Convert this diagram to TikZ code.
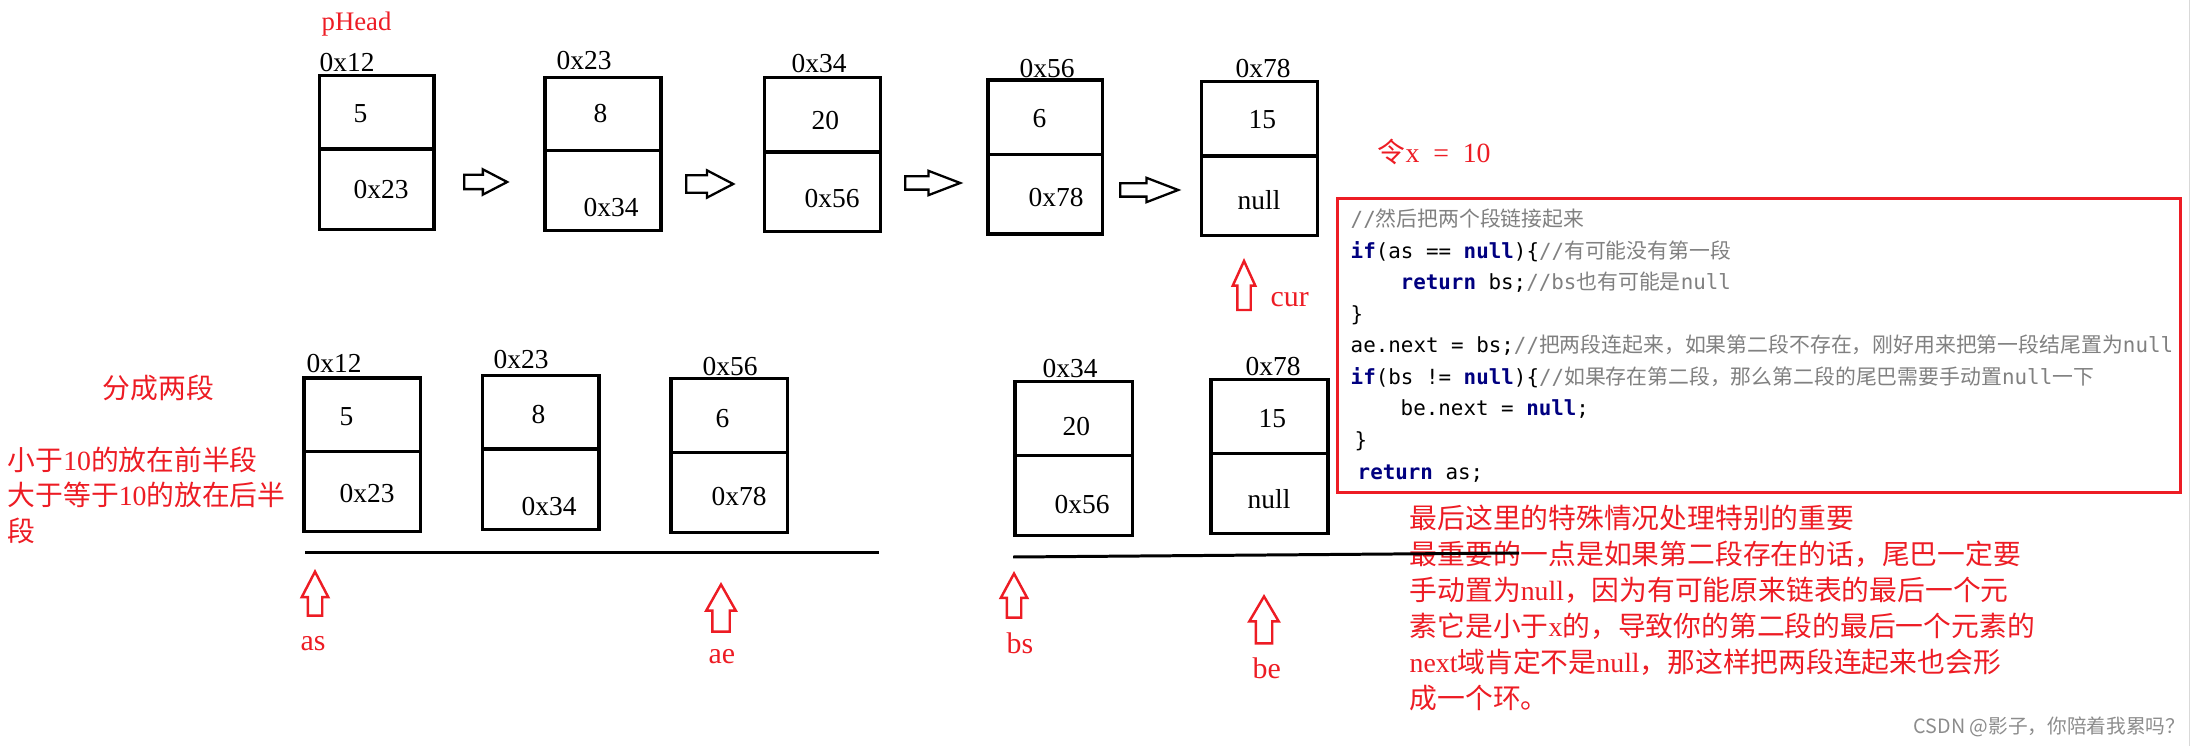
\documentclass[tikz,border=0pt]{standalone}
\usepackage{fontspec}
\usepackage{xcolor}
\usepackage{tikz}
\usetikzlibrary{shapes.arrows}
\setmainfont{Liberation Serif}
\setmonofont{DejaVu Sans Mono}
\newfontfamily\zhfont{Noto Sans CJK SC}
\definecolor{pred}{HTML}{ED1C24}
\definecolor{kwblue}{HTML}{000080}
\definecolor{cmtgray}{HTML}{808080}
\definecolor{wmgray}{HTML}{8C8C8C}
\definecolor{edgegray}{HTML}{D9D9D9}
\newcommand\zh[1]{{\zhfont #1}}
\newcommand\kw[1]{{\color{kwblue}\bfseries #1}}
\newcommand\cmt[1]{{\color{cmtgray}#1}}

\begin{document}
\begin{tikzpicture}[x=0.01cm, y=-0.01cm,
    cell/.style={line width=1pt},
    val/.style={anchor=base west, inner sep=0pt, font=\fontsize{7.8}{9}\selectfont},
    note/.style={anchor=base west, inner sep=0pt, text=pred, font=\fontsize{7.9}{10}\selectfont},
    ptr/.style={anchor=base west, inner sep=0pt, text=pred, font=\fontsize{8.5}{10}\selectfont},
    code/.style={anchor=base west, inner sep=0pt, font=\fontsize{5.93}{7}\selectfont\ttfamily},
    nextarrow/.style={single arrow, draw, fill=white, line width=0.65pt, anchor=tail},
    uparrow/.style={single arrow, draw=pred, line width=0.7pt, rotate=90, anchor=tip}]
\useasboundingbox (0,0) rectangle (2201,746);
\draw[edgegray, line width=0.3pt] (2189,0) -- (2189,746);

% list cells: left/right/top/middle/bottom
\foreach \l/\r/\t/\m/\b in {319.3/434/75.7/149/229.3, 545/661/77.3/150.7/230.7,
    764.7/880.7/77.3/152/231.3, 988/1102.7/80/154.7/234, 1201.3/1317.7/81.3/155.8/235.3,
    304/420.7/378/451.3/531.3, 482.3/599/375.7/449/529.7, 671/787.3/378.3/452.3/532.3,
    1015/1132.3/381.3/455.7/535.7, 1211/1328/379.7/453.7/533.3}
  \draw[cell] (\l,\t) rectangle (\r,\b) (\l,\m) -- (\r,\m);

\foreach \nm/\txt/\x/\y in {a-addr/0x12/319/72, a-val/5/353/123, a-next/0x23/353/199,
    b-addr/0x23/556/70, b-val/8/593/123, b-next/0x34/583/217,
    c-addr/0x34/791/73, c-val/20/811/130, c-next/0x56/804/208,
    d-addr/0x56/1019/78, d-val/6/1032/128, d-next/0x78/1028/207,
    e-addr/0x78/1235/78, e-val/15/1248/129, e-next/null/1237/210,
    f-addr/0x12/306/373, f-val/5/339/425, f-next/0x23/339/502,
    g-addr/0x23/493/368, g-val/8/531/423, g-next/0x34/521/515,
    h-addr/0x56/702/376, h-val/6/715/427, h-next/0x78/711/505,
    i-addr/0x34/1042/377, i-val/20/1062/435, i-next/0x56/1054/513,
    j-addr/0x78/1245/376, j-val/15/1258/427, j-next/null/1247/508}
  \node[val] (\nm) at (\x,\y) {\txt};

% next arrows
\node[nextarrow, minimum height=0.43cm, inner sep=0.06cm, single arrow head extend=0.055cm, single arrow tip angle=55] (ab) at (463,182) {};
\node[nextarrow, minimum height=0.47cm, inner sep=0.075cm, single arrow head extend=0.05cm, single arrow tip angle=55] (bc) at (685,184) {};
\node[nextarrow, minimum height=0.55cm, inner sep=0.055cm, single arrow head extend=0.055cm, single arrow tip angle=42] (cd) at (904,183) {};
\node[nextarrow, minimum height=0.58cm, inner sep=0.055cm, single arrow head extend=0.055cm, single arrow tip angle=42] (de) at (1119,190) {};

% pointers
\node[ptr, font=\fontsize{7.6}{9}\selectfont] (phead) at (321,31) {pHead};
\node[uparrow, minimum height=0.49cm, inner sep=0.055cm, single arrow head extend=0.045cm, single arrow tip angle=49] (cur-arr) at (1244,258) {};
\node[ptr] (cur) at (1270,307) {cur};
\node[uparrow, minimum height=0.44cm, inner sep=0.06cm, single arrow head extend=0.06cm, single arrow tip angle=55] (as-arr) at (315,569) {};
\node[ptr] (as) at (300,650) {as};
\node[uparrow, minimum height=0.47cm, inner sep=0.075cm, single arrow head extend=0.06cm, single arrow tip angle=59] (ae-arr) at (721,582) {};
\node[ptr] (ae) at (708,663) {ae};
\node[uparrow, minimum height=0.44cm, inner sep=0.06cm, single arrow head extend=0.06cm, single arrow tip angle=57] (bs-arr) at (1014,571) {};
\node[ptr] (bs) at (1006,653) {bs};
\node[uparrow, minimum height=0.47cm, inner sep=0.07cm, single arrow head extend=0.065cm, single arrow tip angle=61] (be-arr) at (1264,594) {};
\node[ptr] (be) at (1252,678) {be};

% notes
\node[note] (xval) at (1377,163) {\zh{令}x\hspace{0.5em}=\hspace{0.5em}10};
\node[note] (split) at (102,398) {\zh{分成两段}};
\node[note] (rule1) at (7,470) {\zh{小于}10\zh{的放在前半段}};
\node[note] (rule2) at (7,505) {\zh{大于等于}10\zh{的放在后半}};
\node[note] (rule3) at (7,541) {\zh{段}};
\node[note] (n1) at (1409,528) {\zh{最后这里的特殊情况处理特别的重要}};
\node[note] (n2) at (1409,564) {\zh{最重要的一点是如果第二段存在的话，尾巴一定要}};
\node[note] (n3) at (1409,600) {\zh{手动置为}null\zh{，因为有可能原来链表的最后一个元}};
\node[note] (n4) at (1409,636) {\zh{素它是小于}x\zh{的，导致你的第二段的最后一个元素的}};
\node[note] (n5) at (1409,672) {next\zh{域肯定不是}null\zh{，那这样把两段连起来也会形}};
\node[note] (n6) at (1409,708) {\zh{成一个环。}};

% the two halves
\draw[line width=0.85pt] (305,552.3) -- (879,552.3);
\draw[line width=0.85pt] (1013,557) -- (1519,553);

% code
\draw[pred, line width=0.9pt] (1337.7,198.7) rectangle (2180.5,492.5);
\node[code] (c1) at (1350,227) {\cmt{//\zh{然后把两个段链接起来}}};
\node[code] (c2) at (1350,258.5) {\kw{if}(as == \kw{null})\{\cmt{//\zh{有可能没有第一段}}};
\node[code] (c3) at (1400,290) {\kw{return} bs;\cmt{//bs\zh{也有可能是}null}};
\node[code] (c4) at (1350,321.5) {\}};
\node[code] (c5) at (1350,353) {ae.next = bs;\cmt{//\zh{把两段连起来，如果第二段不存在，刚好用来把第一段结尾置为}null}};
\node[code] (c6) at (1350,384.5) {\kw{if}(bs != \kw{null})\{\cmt{//\zh{如果存在第二段，那么第二段的尾巴需要手动置}null\zh{一下}}};
\node[code] (c7) at (1400,416) {be.next = \kw{null};};
\node[code] (c8) at (1354,447.5) {\}};
\node[code] (c9) at (1357,479) {\kw{return} as;};

\node[anchor=base east, inner sep=0pt, text=wmgray, font=\zhfont\fontsize{5.6}{7}\selectfont] (mark) at (2186,733) {CSDN @影子，你陪着我累吗？};
\end{tikzpicture}
\end{document}
